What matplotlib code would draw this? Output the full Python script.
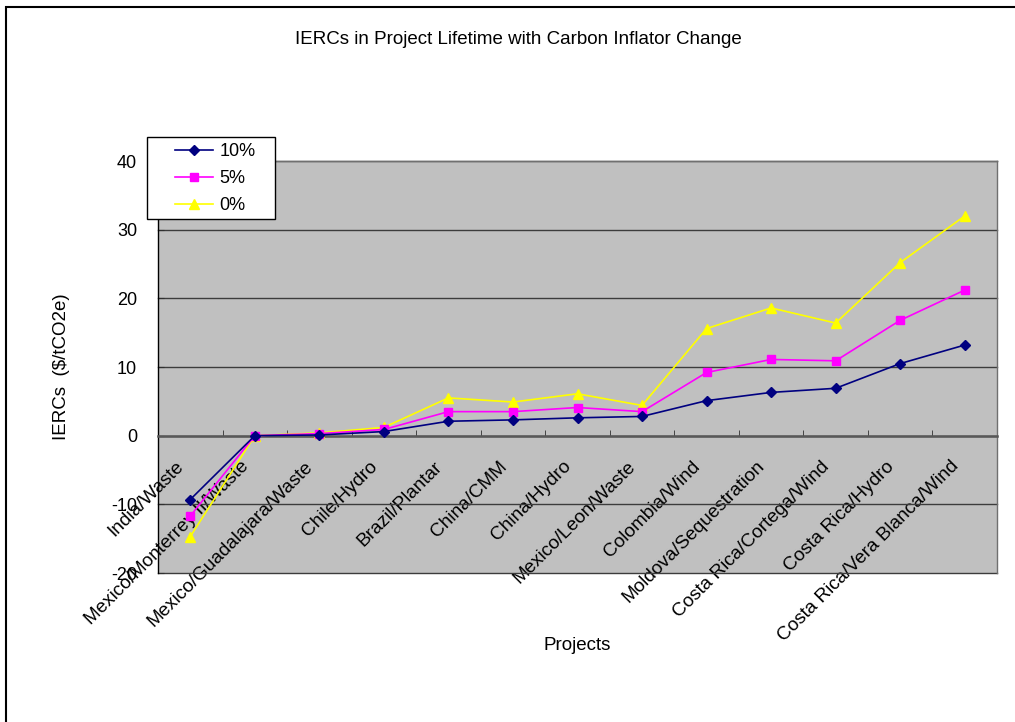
import matplotlib
matplotlib.use("Agg")
from matplotlib import pyplot as plt
from matplotlib.patches import Rectangle
from matplotlib.transforms import ScaledTranslation

projects = ["India/Waste", "Mexico/Monterrey II/Waste", "Mexico/Guadalajara/Waste",
            "Chile/Hydro", "Brazil/Plantar", "China/CMM", "China/Hydro",
            "Mexico/Leon/Waste", "Colombia/Wind", "Moldova/Sequestration",
            "Costa Rica/Cortega/Wind", "Costa Rica/Hydro", "Costa Rica/Vera Blanca/Wind"]
ierc_10 = [-9.3, 0.0, 0.1, 0.6, 2.1, 2.3, 2.6, 2.8, 5.1, 6.3, 6.9, 10.5, 13.2]
ierc_5 = [-11.7, 0.0, 0.3, 0.9, 3.5, 3.5, 4.1, 3.5, 9.2, 11.1, 10.9, 16.8, 21.2]
ierc_0 = [-14.7, 0.0, 0.4, 1.2, 5.5, 4.9, 6.1, 4.4, 15.6, 18.6, 16.4, 25.2, 32.0]
y_ticks = [-20, -10, 0, 10, 20, 30, 40]

plt.rcParams["font.family"] = ["Liberation Sans", "DejaVu Sans"]
plt.rcParams["axes.unicode_minus"] = False

W, H = 1015, 722
fig = plt.figure(figsize=(W / 100, H / 100), dpi=100)
ax = fig.add_axes([158 / W, 1 - 573 / H, 839 / W, 412 / H])
ax.set_facecolor("#c0c0c0")

x = list(range(len(projects)))
ax.plot(x, ierc_10, color="#000080", lw=1.2, marker="D", ms=5.5, label="10%", zorder=5)
ax.plot(x, ierc_5, color="#ff00ff", lw=1.2, marker="s", ms=6, label="5%", zorder=4)
ax.plot(x, ierc_0, color="#ffff00", lw=1.2, marker="^", ms=7, label="0%", zorder=3)

ax.set_xlim(-0.5, len(projects) - 0.5)
ax.set_ylim(-20, 40)
ax.set_yticks(y_ticks)
ax.yaxis.grid(True, color="#3c3c3c", lw=1.0)
ax.set_axisbelow(True)
for gl in ax.get_ygridlines():
    gl.set_clip_on(False)

# spines: category axis crosses at zero
ax.spines["bottom"].set_position(("data", 0))
ax.spines["bottom"].set_color("#585858")
ax.spines["bottom"].set_linewidth(1.8)
ax.spines["left"].set_color("black")
ax.spines["left"].set_linewidth(1.0)
for s in ("top", "right"):
    ax.spines[s].set_color("#707070")
    ax.spines[s].set_linewidth(1.0)

ax.tick_params(axis="y", direction="in", length=4.5, color="#303030",
               labelsize=13, pad=15)
ax.set_xticks(x)
ax.set_xticks([i - 0.5 for i in range(len(projects) + 1)], minor=True)
ax.tick_params(axis="x", which="major", length=0, pad=16, labelsize=13.7)
ax.tick_params(axis="x", which="minor", direction="in", length=4.5, color="#303030")
ax.set_xticklabels(projects, rotation=45, ha="right", va="top", rotation_mode="anchor")
shift = ScaledTranslation(-15 / 100, 0, fig.dpi_scale_trans)
for lab in ax.get_xticklabels():
    lab.set_transform(lab.get_transform() + shift)

ax.set_ylabel("IERCs  ($/tCO2e)", fontsize=13.5)
ax.yaxis.set_label_coords(-0.105, 0.5)
ax.set_xlabel("Projects", fontsize=13.5, va="center")
ax.xaxis.set_label_coords(0.5, -0.175)

fig.text(518 / W, 1 - 40 / H, "IERCs in Project Lifetime with Carbon Inflator Change",
         ha="center", va="center", fontsize=13.5)

# outer chart frame (only top and left edges visible)
fig.patches.append(Rectangle((6 / W, -0.1), 1.2, 1.1 - 7 / H, transform=fig.transFigure,
                             fill=False, ec="black", lw=1.5))

# legend box
fig.patches.append(Rectangle((147 / W, 1 - 219 / H), 128 / W, 82 / H,
                             transform=fig.transFigure, fc="white", ec="black",
                             lw=1.0, zorder=2))
fig.legend(loc="upper left", bbox_to_anchor=(175 / W, 1 - 143 / H),
           bbox_transform=fig.transFigure, frameon=False, fontsize=13,
           handlelength=2.1, handletextpad=0.35, labelspacing=0.55,
           borderpad=0.0, borderaxespad=0.0)

fig.savefig("out.png", dpi=100)
